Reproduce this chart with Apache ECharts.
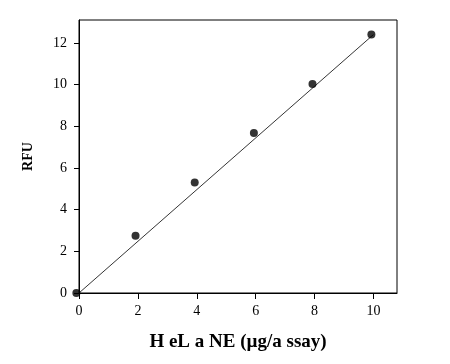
<!DOCTYPE html>
<html><head><meta charset="utf-8">
<script src="https://cdn.jsdelivr.net/npm/echarts@6/dist/echarts.min.js"></script>
<style>html,body{margin:0;padding:0;background:#fff}#c{width:450px;height:364px}</style>
</head><body><div id="c"></div>
<script>
const xValues = [-0.09, 1.92, 3.93, 5.94, 7.93, 9.93];
const yValues = [0, 2.75, 5.30, 7.68, 10.03, 12.40];
const fitX = [0, 10];
const fitY = [0, 12.4];
const xTicks = [0, 2, 4, 6, 8, 10];
const yTicks = [0, 2, 4, 6, 8, 10, 12];
const xName = 'H eL a NE (µg/a ssay)';
const yName = 'RFU';

const chart = echarts.init(document.getElementById('c'), null, {renderer: 'canvas'});
const font = '"Liberation Serif", "DejaVu Serif", serif';
chart.setOption({
  animation: false,
  backgroundColor: '#fff',
  grid: {left: 79, right: 53, top: 20, bottom: 71, show: true, borderColor: '#000', borderWidth: 1, backgroundColor: 'transparent'},
  xAxis: {
    type: 'value', min: 0, max: 10.8, interval: 2,
    name: xName, nameLocation: 'middle', nameGap: 40,
    nameTextStyle: {fontFamily: font, fontWeight: 'bold', fontSize: 19, color: '#000'},
    axisLine: {show: true, lineStyle: {color: '#000', width: 1}},
    axisTick: {show: true, length: 6, lineStyle: {color: '#000'}},
    axisLabel: {fontFamily: font, fontSize: 14, color: '#000', margin: 11, showMaxLabel: false,
      formatter: v => xTicks.includes(v) ? String(v) : ''},
    splitLine: {show: false}
  },
  yAxis: {
    type: 'value', min: 0, max: 13.1, interval: 2,
    name: yName, nameLocation: 'middle', nameGap: 44,
    nameTextStyle: {fontFamily: font, fontWeight: 'bold', fontSize: 14, color: '#000'},
    axisLine: {show: true, lineStyle: {color: '#000', width: 1}},
    axisTick: {show: true, length: 5, lineStyle: {color: '#000'}},
    axisLabel: {fontFamily: font, fontSize: 14, color: '#000', margin: 12, showMaxLabel: false,
      formatter: v => yTicks.includes(v) ? String(v) : ''},
    splitLine: {show: false}
  },
  series: [
    {type: 'line', data: fitX.map((x, i) => [x, fitY[i]]), symbol: 'none',
     lineStyle: {color: '#000', width: 0.8}, z: 2},
    {type: 'scatter', data: xValues.map((x, i) => [x, yValues[i]]), symbol: 'circle', symbolSize: 8,
     itemStyle: {color: '#000'}, clip: false, z: 3}
  ]
});
</script></body></html>
